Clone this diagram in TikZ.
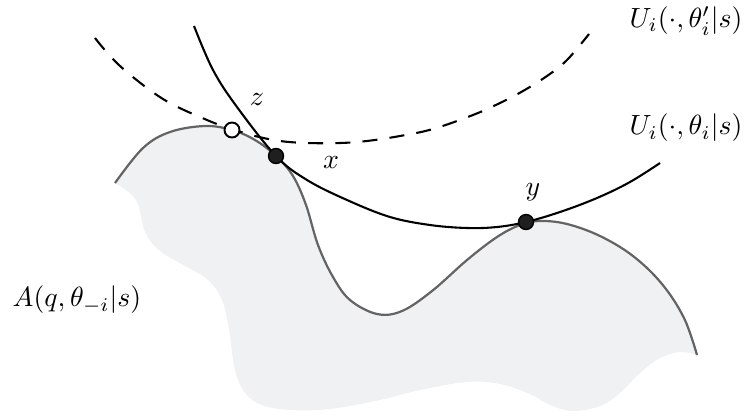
\documentclass[tikz,border=0pt]{standalone}
\usepackage{tikz}
\definecolor{regionfill}{RGB}{240,241,243}
\definecolor{edgegray}{RGB}{100,100,100}
\tikzset{
  ucurve/.style={line width=0.75pt, black},
  udashed/.style={line width=0.75pt, black, dash pattern=on 5.4pt off 4.4pt},
  boundary/.style={line width=0.8pt, edgegray},
  fdot/.style={circle, draw=black, fill=black!88, line width=0.5pt, minimum size=15*0.36pt, inner sep=0pt},
  odot/.style={circle, draw=black, fill=white, line width=0.7pt, minimum size=15*0.36pt, inner sep=0pt},
  lbl/.style={inner sep=0pt}
}
\begin{document}
\begin{tikzpicture}[x=0.36pt,y=-0.36pt]
\useasboundingbox (0,0) rectangle (748,416);
% region
\fill[regionfill] plot[smooth, tension=0.6] coordinates {(115,183) (143,148) (170,132) (205,126) (232,130) (255,140) (276,156) (293,176) (306,205) (318,245) (333,277) (350,300) (377,314) (402,311) (432,291) (467,260) (497,237) (520,225) (540,221) (567,224) (600,236) (633,256) (662,284) (684,318) (697,355)}
  -- plot[smooth, tension=0.6] coordinates {(697,355) (680,352) (660,358) (640,373) (620,393) (600,406) (573,411) (550,405) (530,394) (500,384) (467,382) (420,390) (380,400) (330,409) (290,410) (262,405) (245,393) (235,370) (229,330) (222,300) (208,280) (187,267) (160,251) (145,232) (136,200) (115,183)} -- cycle;
% boundary
\draw[boundary] plot[smooth, tension=0.6] coordinates {(115,183) (143,148) (170,132) (205,126) (232,130) (255,140) (276,156) (293,176) (306,205) (318,245) (333,277) (350,300) (377,314) (402,311) (432,291) (467,260) (497,237) (520,225) (540,221) (567,224) (600,236) (633,256) (662,284) (684,318) (697,355)};
% dashed indifference curve
\draw[udashed] plot[smooth, tension=0.6] coordinates {(95,38) (120,66) (163,99) (207,120) (232,129) (255,136) (280,141) (307,143) (340,143) (367,141) (400,136) (433,129) (473,115) (500,103) (523,91) (547,76) (567,60) (589,34)};
% solid indifference curve
\draw[ucurve] plot[smooth, tension=0.6] coordinates {(194,26) (213,70) (237,107) (276,156) (307,180) (347,200) (390,217) (430,225) (467,228) (497,227) (526,222) (560,212) (597,198) (630,182) (660,163)};
% points
\node[odot] (z) at (232,130) {};
\node[fdot] (x) at (276,156) {};
\node[fdot] (y) at (526,222) {};
% labels
\node[lbl] (zl) at (257,100) {$z$};
\node[lbl] (xl) at (331,163) {$x$};
\node[lbl] (yl) at (533,192) {$y$};
\node[lbl] (u1) at (686,21) {$U_i(\cdot,\theta_i'|s)$};
\node[lbl] (u2) at (686,128) {$U_i(\cdot,\theta_i|s)$};
\node[lbl] (al) at (77,300) {$A(q,\theta_{-i}|s)$};
\end{tikzpicture}
\end{document}
